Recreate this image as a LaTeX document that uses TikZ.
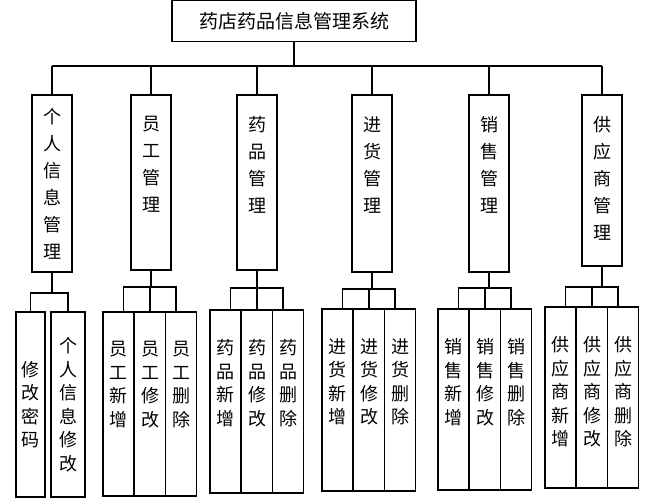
\documentclass[tikz,border=0pt]{standalone}
\usepackage{fontspec}
\newfontfamily\cjk{Noto Sans CJK SC}
\tikzstyle{box}=[draw, line width=1.2pt, inner sep=0pt]
\tikzstyle{mid}=[box, minimum width=40pt, minimum height=177pt]
\tikzstyle{leaf}=[box, minimum width=31pt, minimum height=183pt]
\tikzstyle{vt}=[align=center, font=\cjk\fontsize{18}{23.5}\selectfont, inner sep=0pt]
\tikzstyle{wire}=[line width=1.2pt]
\begin{document}
\begin{tikzpicture}[x=1pt,y=-1pt]
  \useasboundingbox (0,0) rectangle (653,500);
  \draw (294,21) node[box, minimum width=244pt, minimum height=41pt, font=\cjk\fontsize{19}{20}\selectfont] (root) {药店药品信息管理系统};

  %% second level
  \draw (52,183.5) node[mid] (A) {};
  \draw (151,182.5) node[mid, minimum height=175pt] (B) {};
  \draw (257,182.5) node[mid, minimum height=175pt] (C) {};
  \draw (372,183.5) node[mid] (D) {};
  \draw (489,183.5) node[mid] (E) {};
  \draw (602,180.5) node[mid, minimum height=171pt] (F) {};
  \node[vt, font=\cjk\fontsize{18}{27}\selectfont] at (A) {个\\人\\信\\息\\管\\理};
  \node[vt, anchor=north, font=\cjk\fontsize{18}{27}\selectfont] at ([yshift=-22pt]B.north) {员\\工\\管\\理};
  \node[vt, anchor=north, font=\cjk\fontsize{18}{27}\selectfont] at ([yshift=-22pt]C.north) {药\\品\\管\\理};
  \node[vt, anchor=north, font=\cjk\fontsize{18}{27}\selectfont] at ([yshift=-22pt]D.north) {进\\货\\管\\理};
  \node[vt, anchor=north, font=\cjk\fontsize{18}{27}\selectfont] at ([yshift=-22pt]E.north) {销\\售\\管\\理};
  \node[vt, anchor=north, font=\cjk\fontsize{18}{27}\selectfont] at ([yshift=-22pt]F.north) {供\\应\\商\\管\\理};

  \coordinate (busL) at (52,66);
  \coordinate (busR) at (602,66);
  \draw[wire] (root.south) -- (root.south|-busL);
  \draw[wire] (busL) -- (busR);
  \foreach \n in {A,B,C,D,E,F}
    \draw[wire] (\n.north|-busL) -- (\n.north);

  %% third level
  \draw (30.5,404.5) node[leaf, minimum width=29pt, minimum height=185pt] (A1) {};
  \draw (68,404.5) node[leaf, minimum width=34pt, minimum height=185pt] (A2) {};
  \node[vt] at (A1) {修\\改\\密\\码};
  \node[vt] at (A2) {个\\人\\信\\息\\修\\改};
  \foreach \n/\x/\t/\b in {B/103/312/496, C/210/310/493, D/322/309/491, E/438/309/490, F/545/307/488} {
    \draw (\x+15.5,\t/2+\b/2) node[leaf, minimum height=\b-\t] (\n1) {};
    \draw (\x+47,\t/2+\b/2) node[leaf, minimum height=\b-\t] (\n2) {};
    \draw (\x+78,\t/2+\b/2) node[leaf, minimum height=\b-\t] (\n3) {};
  }
  \node[vt, anchor=north] at ([yshift=-30pt]B1.north) {员\\工\\新\\增};
  \node[vt, anchor=north] at ([yshift=-30pt]B2.north) {员\\工\\修\\改};
  \node[vt, anchor=north] at ([yshift=-30pt]B3.north) {员\\工\\删\\除};
  \node[vt, anchor=north] at ([yshift=-30pt]C1.north) {药\\品\\新\\增};
  \node[vt, anchor=north] at ([yshift=-30pt]C2.north) {药\\品\\修\\改};
  \node[vt, anchor=north] at ([yshift=-30pt]C3.north) {药\\品\\删\\除};
  \node[vt, anchor=north] at ([yshift=-30pt]D1.north) {进\\货\\新\\增};
  \node[vt, anchor=north] at ([yshift=-30pt]D2.north) {进\\货\\修\\改};
  \node[vt, anchor=north] at ([yshift=-30pt]D3.north) {进\\货\\删\\除};
  \node[vt, anchor=north] at ([yshift=-30pt]E1.north) {销\\售\\新\\增};
  \node[vt, anchor=north] at ([yshift=-30pt]E2.north) {销\\售\\修\\改};
  \node[vt, anchor=north] at ([yshift=-30pt]E3.north) {销\\售\\删\\除};
  \node[vt, anchor=north] at ([yshift=-30pt]F1.north) {供\\应\\商\\新\\增};
  \node[vt, anchor=north] at ([yshift=-30pt]F2.north) {供\\应\\商\\修\\改};
  \node[vt, anchor=north] at ([yshift=-30pt]F3.north) {供\\应\\商\\删\\除};

  %% brackets
  \coordinate (Ak) at (0,293);
  \draw[wire] (A.south) -- (A.south|-Ak);
  \draw[wire] (A1.north) -- (A1.north|-Ak) -- (A2.north|-Ak) -- (A2.north);
  \foreach \n/\y in {B/287, C/288, D/289, E/288, F/287} {
    \coordinate (\n k) at (0,\y);
    \draw[wire] (\n.south) -- (\n.south|-\n k);
    \draw[wire] ([xshift=5pt]\n1.north) -- ([xshift=5pt]\n1.north|-\n k) -- ([xshift=-5pt]\n3.north|-\n k) -- ([xshift=-5pt]\n3.north);
    \draw[wire] (\n2.north|-\n k) -- (\n2.north);
  }
\end{tikzpicture}
\end{document}
